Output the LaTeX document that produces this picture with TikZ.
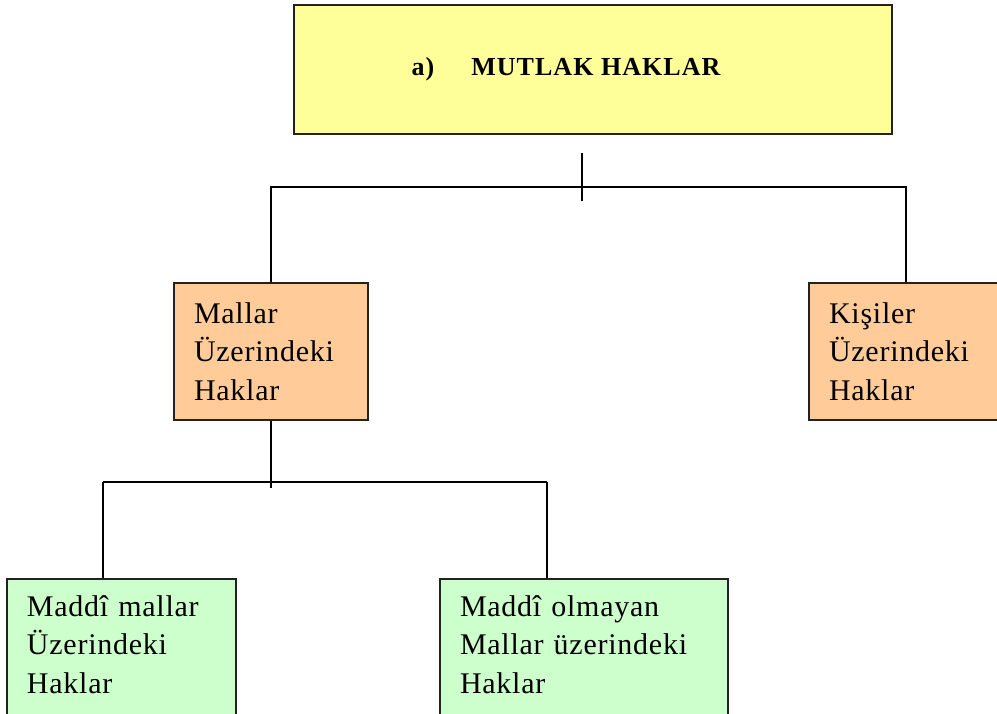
\documentclass[tikz,border=0pt]{standalone}
\usepackage{fontspec}
\setmainfont{Liberation Serif}[LetterSpace=2.5]
\newfontfamily\titlefont{Liberation Serif}[LetterSpace=4]
\usetikzlibrary{positioning}
\definecolor{boxyellow}{HTML}{FFFF99}
\definecolor{boxpeach}{HTML}{FFCC99}
\definecolor{boxgreen}{HTML}{CCFFCC}
\definecolor{edgegray}{HTML}{222222}
\newcommand{\lowstrut}{\rule[-6pt]{0pt}{6pt}}
\tikzset{
  x=1pt, y=1pt,
  boxbase/.style={draw=edgegray, line width=1.4pt, rectangle, inner ysep=0pt, inner xsep=20pt},
  titlebox/.style={boxbase, fill=boxyellow, minimum width=598, minimum height=129,
     font=\titlefont\bfseries\fontsize{26}{30}\selectfont},
  peachbox/.style={boxbase, fill=boxpeach, minimum height=137, align=left,
     font=\fontsize{30}{38.5}\selectfont},
  greenbox/.style={boxbase, fill=boxgreen, minimum height=137, align=left,
     font=\fontsize{30}{38.5}\selectfont},
  conn/.style={line width=1.3pt, black}
}
\begin{document}
\begin{tikzpicture}
\useasboundingbox (0,0) rectangle (997,-714);
\clip (0,0) rectangle (997,-714);
% boxes
\node[titlebox] (top) at (593,-69.5) {a)\hspace{37pt}MUTLAK HAKLAR\hspace{54pt}\null};
\node[peachbox, text width=154] (mallar) at (271,-351.5) {Mallar\\Üzerindeki\\Haklar};
\node[peachbox, text width=154] (kisiler) at (906,-351.5) {Kişiler\\Üzerindeki\\Haklar};
\node[greenbox, text width=189] (maddi) at (121.5,-647.5) {Maddî mallar\\Üzerindeki\\Haklar\lowstrut};
\node[greenbox, text width=248] (maddiol) at (584,-647.5) {Maddî olmayan\\Mallar üzerindeki\\Haklar\lowstrut};
% junction points
\coordinate (stubtop) at (582,-153);
\coordinate (stubbot) at (582,-201);
\coordinate (jone) at (582,-187);
\coordinate (jtwoend) at (271,-488);
\coordinate (jleft) at (103,-482);
\coordinate (jright) at (547,-482);
% connectors
\draw[conn] (stubtop) -- (stubbot);
\draw[conn] (mallar.north) |- (jone) -| (kisiler.north);
\draw[conn] (mallar.south) -- (jtwoend);
\draw[conn] (jleft) -- (jright);
\draw[conn] (jleft) -- (jleft |- maddi.north);
\draw[conn] (jright) -- (jright |- maddiol.north);
\end{tikzpicture}
\end{document}
